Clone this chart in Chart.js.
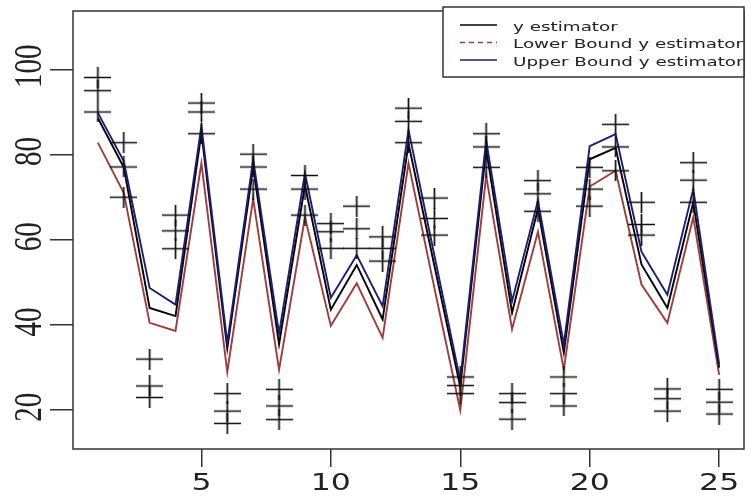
<!DOCTYPE html>
<html>
<head>
<meta charset="utf-8">
<script src="https://cdn.jsdelivr.net/npm/chart.js@4.4.1/dist/chart.umd.min.js"></script>
<style>
  body { margin: 0; background: #fff; }
  #wrap { width: 755px; height: 500px; }
</style>
</head>
<body>
<div id="wrap"><canvas id="mycanvas" width="755" height="500"></canvas></div>
<script>
// x positions (observation index)
var xVals = [1, 2, 3, 4, 5, 6, 7, 8, 9, 10, 11, 12, 13, 14, 15, 16, 17, 18, 19, 20, 21, 22, 23, 24, 25];

// estimator and its bounds
var yEstimator = [88.6, 77.0, 44.0, 42.1, 85.1, 34.5, 77.0, 35.5, 72.8, 43.6, 54.1, 41.3, 82.6, 53.9, 25.5, 81.2, 42.9, 67.3, 33.5, 78.9, 81.6, 54.2, 44.0, 68.8, 30.0];
var lowerBound = [82.8, 71.0, 40.5, 38.6, 78.0, 29.0, 69.6, 29.5, 65.3, 39.8, 49.8, 37.0, 78.0, 48.7, 20.0, 75.0, 39.0, 61.9, 29.5, 72.5, 76.2, 49.5, 40.5, 65.3, 28.3];
var upperBound = [89.8, 78.5, 48.7, 44.8, 86.7, 35.8, 78.9, 38.0, 75.6, 46.4, 56.4, 44.4, 85.8, 56.3, 27.0, 83.4, 45.6, 69.2, 35.5, 82.0, 84.8, 57.2, 47.1, 71.9, 30.8];

// observed values ("+" marks), three per index
var obsHigh = [98.1, 82.8, 32.0, 65.8, 92.1, 23.9, 80.1, 24.9, 75.1, 63.8, 67.9, 60.7, 90.9, 69.8, 27.8, 84.9, 23.9, 73.9, 27.8, 77.0, 87.1, 68.8, 25.0, 78.1, 24.9];
var obsMid  = [95.0, 77.1, 25.7, 62.1, 90.0, 19.8, 77.1, 21.0, 71.9, 61.9, 62.6, 58.0, 87.8, 65.0, 25.8, 81.8, 21.8, 70.8, 23.9, 71.9, 81.8, 63.6, 22.7, 74.0, 21.9];
var obsLow  = [90.0, 70.0, 23.0, 57.9, 84.9, 16.9, 71.9, 17.8, 65.8, 58.0, 58.0, 55.0, 82.8, 61.1, 23.9, 77.0, 17.9, 66.7, 21.0, 67.9, 76.2, 61.1, 19.8, 68.8, 19.1];

var xTickVals = [5, 10, 15, 20, 25];
var yTickVals = [20, 40, 60, 80, 100];
var seriesNames = ['y estimator', 'Lower Bound y estimator', 'Upper Bound y estimator'];

function toPoints(ys) {
  return xVals.map(function(x, i) { return { x: x, y: ys[i] }; });
}

// "+" marker, a bit wider than tall like the original
function makeCross() {
  var cv = document.createElement('canvas');
  cv.width = 27;
  cv.height = 21;
  var c = cv.getContext('2d');
  c.strokeStyle = '#111';
  c.lineWidth = 1.7;
  c.beginPath();
  c.moveTo(0, 10.5); c.lineTo(27, 10.5);
  c.moveTo(13.5, 0); c.lineTo(13.5, 21);
  c.stroke();
  return cv;
}
var crossImg = makeCross();

var lineColors = ['#000000', '#a03c3c', '#1c1c7a'];
var lineDash = [[], [5, 4], []];

var framePlugin = {
  id: 'frame',
  afterDraw: function(chart) {
    var c = chart.ctx;
    var a = chart.chartArea;
    c.save();
    c.strokeStyle = '#333';
    c.lineWidth = 1.5;
    c.strokeRect(a.left, a.top, a.right - a.left, a.bottom - a.top);

    // x tick labels
    var xs = chart.scales.x;
    c.fillStyle = '#222';
    c.font = '23px "DejaVu Sans"';
    c.textAlign = 'center';
    c.textBaseline = 'alphabetic';
    xTickVals.forEach(function(v) {
      var px = xs.getPixelForValue(v);
      c.save();
      c.translate(px, 490);
      c.scale(1.37, 1);
      c.fillText(String(v), 0, 0);
      c.restore();
    });

    // y tick labels, rotated
    var ys = chart.scales.y;
    c.font = '29px "Liberation Serif"';
    c.textBaseline = 'middle';
    yTickVals.forEach(function(v) {
      var py = ys.getPixelForValue(v);
      c.save();
      c.translate(30, py - 3);
      c.rotate(-Math.PI / 2);
      c.scale(1, 1.4);
      c.fillText(String(v), 0, 0);
      c.restore();
    });

    // legend box
    var bx = 443, by = 7, bw = a.right - 443, bh = 70;
    c.fillStyle = '#fff';
    c.fillRect(bx, by, bw, bh);
    c.strokeStyle = '#333';
    c.lineWidth = 1.5;
    c.strokeRect(bx, by, bw, bh);
    c.font = '12.5px "DejaVu Sans"';
    var sx = 230 / c.measureText(seriesNames[1]).width;
    for (var i = 0; i < seriesNames.length; i++) {
      var base = 30.8 + i * 17.5;
      c.strokeStyle = lineColors[i];
      c.lineWidth = 1.3;
      c.setLineDash(lineDash[i]);
      c.beginPath();
      c.moveTo(460, base - 5.8);
      c.lineTo(497, base - 5.8);
      c.stroke();
      c.setLineDash([]);
      c.fillStyle = '#222';
      c.textAlign = 'left';
      c.textBaseline = 'alphabetic';
      c.save();
      c.translate(513, base);
      c.scale(sx, 1);
      c.fillText(seriesNames[i], 0, 0);
      c.restore();
    }
    c.restore();
  }
};

function lineSet(label, ys, color, order) {
  return {
    label: label,
    data: toPoints(ys),
    borderColor: color,
    backgroundColor: color,
    borderWidth: 1.9,
    pointRadius: 0,
    tension: 0,
    fill: false,
    order: order
  };
}

function crossSet(label, ys) {
  return {
    label: label,
    data: toPoints(ys),
    showLine: false,
    pointStyle: crossImg,
    pointRadius: 10,
    order: 0
  };
}

var ctx = document.getElementById('mycanvas');
var chart = new Chart(ctx, {
  type: 'line',
  data: {
    datasets: [
      lineSet(seriesNames[0], yEstimator, lineColors[0], 2),
      lineSet(seriesNames[1], lowerBound, lineColors[1], 3),
      lineSet(seriesNames[2], upperBound, lineColors[2], 1),
      crossSet('obs high', obsHigh),
      crossSet('obs mid', obsMid),
      crossSet('obs low', obsLow)
    ]
  },
  options: {
    responsive: false,
    animation: false,
    layout: { padding: { top: 7, right: 2, left: 0, bottom: 0 } },
    plugins: { legend: { display: false }, tooltip: { enabled: false } },
    scales: {
      x: {
        type: 'linear',
        min: 0.04,
        max: 25.96,
        afterBuildTicks: function(s) { s.ticks = xTickVals.map(function(v) { return { value: v }; }); },
        afterFit: function(s) { s.height = 51; },
        grid: { drawOnChartArea: false, drawTicks: true, tickLength: 18, color: '#333', lineWidth: 1.5 },
        border: { display: false },
        ticks: { color: 'rgba(0,0,0,0)', font: { size: 10 } }
      },
      y: {
        type: 'linear',
        min: 10.9,
        max: 113.7,
        afterBuildTicks: function(s) { s.ticks = yTickVals.map(function(v) { return { value: v }; }); },
        afterFit: function(s) { s.width = 73; },
        grid: { drawOnChartArea: false, drawTicks: true, tickLength: 23, color: '#333', lineWidth: 1.5 },
        border: { display: false },
        ticks: { color: 'rgba(0,0,0,0)', font: { size: 10 } }
      }
    }
  },
  plugins: [framePlugin]
});
</script>
</body>
</html>
